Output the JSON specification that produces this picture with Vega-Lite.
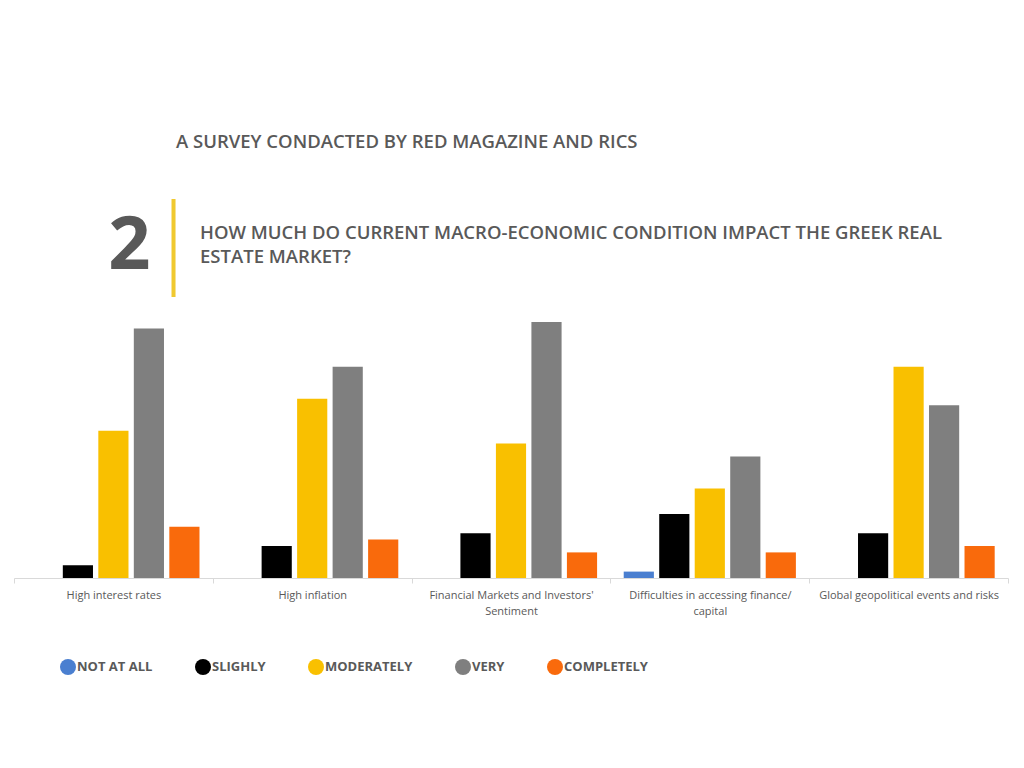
{
  "$schema": "https://vega.github.io/schema/vega-lite/v6.json",
  "width": 994,
  "height": 256,
  "autosize": {"type": "none"},
  "padding": {"left": 14, "top": 322, "right": 16, "bottom": 190},
  "background": "white",
  "title": {
    "text": "A SURVEY CONDACTED BY RED MAGAZINE AND RICS",
    "subtitle": ["\u200b\u00a0\u00a0\u00a0\u00a0\u00a0HOW MUCH DO CURRENT MACRO-ECONOMIC CONDITION IMPACT THE GREEK REAL", "\u200b\u00a0\u00a0\u00a0\u00a0\u00a0ESTATE MARKET?"],
    "anchor": "start",
    "frame": "group",
    "dx": 162,
    "offset": -73,
    "font": "Open Sans",
    "fontSize": 18.5,
    "fontWeight": 600,
    "color": "#595959",
    "subtitleFont": "Open Sans",
    "subtitleFontSize": 18.5,
    "subtitleFontWeight": 600,
    "subtitleColor": "#595959",
    "subtitleLineHeight": 24,
    "subtitlePadding": 72
  },
  "data": {
    "values": [
      {"category": "High interest rates", "level": "NOT AT ALL", "count": 0},
      {"category": "High interest rates", "level": "SLIGHLY", "count": 2},
      {"category": "High interest rates", "level": "MODERATELY", "count": 23},
      {"category": "High interest rates", "level": "VERY", "count": 39},
      {"category": "High interest rates", "level": "COMPLETELY", "count": 8},
      {"category": "High inflation", "level": "NOT AT ALL", "count": 0},
      {"category": "High inflation", "level": "SLIGHLY", "count": 5},
      {"category": "High inflation", "level": "MODERATELY", "count": 28},
      {"category": "High inflation", "level": "VERY", "count": 33},
      {"category": "High inflation", "level": "COMPLETELY", "count": 6},
      {"category": "Financial Markets and Investors' Sentiment", "level": "NOT AT ALL", "count": 0},
      {"category": "Financial Markets and Investors' Sentiment", "level": "SLIGHLY", "count": 7},
      {"category": "Financial Markets and Investors' Sentiment", "level": "MODERATELY", "count": 21},
      {"category": "Financial Markets and Investors' Sentiment", "level": "VERY", "count": 40},
      {"category": "Financial Markets and Investors' Sentiment", "level": "COMPLETELY", "count": 4},
      {"category": "Difficulties in accessing finance/capital", "level": "NOT AT ALL", "count": 1},
      {"category": "Difficulties in accessing finance/capital", "level": "SLIGHLY", "count": 10},
      {"category": "Difficulties in accessing finance/capital", "level": "MODERATELY", "count": 14},
      {"category": "Difficulties in accessing finance/capital", "level": "VERY", "count": 19},
      {"category": "Difficulties in accessing finance/capital", "level": "COMPLETELY", "count": 4},
      {"category": "Global geopolitical events and risks", "level": "NOT AT ALL", "count": 0},
      {"category": "Global geopolitical events and risks", "level": "SLIGHLY", "count": 7},
      {"category": "Global geopolitical events and risks", "level": "MODERATELY", "count": 33},
      {"category": "Global geopolitical events and risks", "level": "VERY", "count": 27},
      {"category": "Global geopolitical events and risks", "level": "COMPLETELY", "count": 5}
    ]
  },
  "mark": {"type": "bar"},
  "encoding": {
    "x": {
      "field": "category",
      "type": "nominal",
      "sort": null,
      "scale": {"paddingInner": 0, "paddingOuter": 0},
      "axis": {
        "title": "|",
        "titleFont": "Lato",
        "titleFontWeight": 300,
        "titleFontSize": 105,
        "titleColor": "#F0C930",
        "titleX": 159,
        "titleY": -301,
        "titleAlign": "center",
        "titleBaseline": "alphabetic",
        "labelAngle": 0,
        "labelFont": "Open Sans",
        "labelFontSize": 11,
        "labelColor": "#595959",
        "labelPadding": 6,
        "labelLineHeight": 16,
        "labelLimit": 300,
        "labelExpr": "split(replace(replace(datum.label, \"Investors' \", \"Investors'|\"), 'finance/', 'finance/|'), '|')",
        "tickBand": "extent",
        "tickSize": 5,
        "tickColor": "#d9d9d9",
        "domainColor": "#d9d9d9",
        "grid": false
      }
    },
    "xOffset": {
      "field": "level",
      "type": "nominal",
      "sort": ["NOT AT ALL", "SLIGHLY", "MODERATELY", "VERY", "COMPLETELY"],
      "scale": {"paddingInner": 0.15, "paddingOuter": 0.375}
    },
    "y": {
      "field": "count",
      "type": "quantitative",
      "scale": {"domain": [0, 40], "nice": false},
      "axis": {
        "title": "2",
        "titleFont": "Open Sans",
        "titleFontWeight": "bold",
        "titleFontSize": 74,
        "titleColor": "#595959",
        "titleAngle": 0,
        "titleX": 115,
        "titleY": -54,
        "titleAlign": "center",
        "titleBaseline": "alphabetic",
        "labels": false,
        "ticks": false,
        "domain": false,
        "grid": false
      }
    },
    "color": {
      "field": "level",
      "type": "nominal",
      "sort": ["NOT AT ALL", "SLIGHLY", "MODERATELY", "VERY", "COMPLETELY"],
      "scale": {
        "domain": ["NOT AT ALL", "SLIGHLY", "MODERATELY", "VERY", "COMPLETELY"],
        "range": ["#4a7fd0", "#000000", "#F9C000", "#7f7f7f", "#F96A0C"]
      },
      "legend": {
        "title": null,
        "orient": "none",
        "direction": "horizontal",
        "legendX": 46,
        "legendY": 337,
        "symbolType": "circle",
        "symbolSize": 256,
        "symbolStrokeWidth": 0,
        "labelFont": "Open Sans",
        "labelFontSize": 13,
        "labelFontWeight": "bold",
        "labelColor": "#595959",
        "labelOffset": 1,
        "columnPadding": 42
      }
    }
  },
  "config": {
    "view": {"stroke": null}
  }
}
